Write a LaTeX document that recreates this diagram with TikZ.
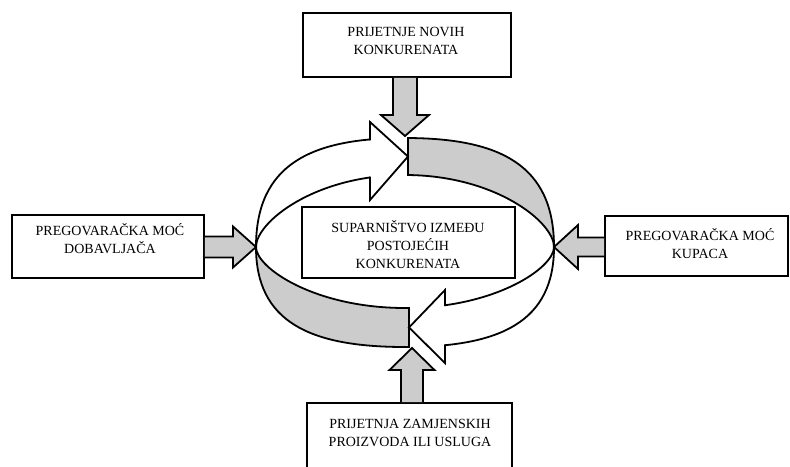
\documentclass[tikz,border=0pt]{standalone}
\usepackage{fontspec}
\setmainfont{Liberation Serif}
\usetikzlibrary{calc,intersections}
\begin{document}
\begin{tikzpicture}[x=1pt,y=-1pt,
  box/.style={draw=black,line width=1.8pt,fill=white,inner sep=0pt,outer sep=0.9pt},
  txt/.style={font=\fontsize{14}{18}\selectfont,align=center,inner sep=0pt},
  inarrow/.style={fill=gray!40,draw=black,line width=1.8pt,line join=miter},
  bandline/.style={draw=black,line width=1.8pt},
  endline/.style={draw=black,line width=1.8pt,line join=miter,line cap=rect},
  outerpath/.style={insert path={(L) .. controls (256,165) and (310,138) .. (405,138) .. controls (500,138) and (554,165) .. (R) .. controls (554,322) and (500,347) .. (405,347) .. controls (310,347) and (256,322) .. (L) -- cycle}},
  innerpath/.style={insert path={(L) .. controls (256,222) and (315,175) .. (405,175) .. controls (495,175) and (554,222) .. (R) .. controls (554,268) and (495,308) .. (405,308) .. controls (315,308) and (256,268) .. (L) -- cycle}},
]
\useasboundingbox (0,0) rectangle (790,466);
\clip (0,0) rectangle (790,466);

\coordinate (L) at (256,247);
\coordinate (R) at (554,247);

% grey parts of the cycle
\begin{scope}
  \clip (408,100) rectangle (600,247);
  \fill[gray!40,even odd rule,outerpath,innerpath];
\end{scope}
\begin{scope}
  \clip (250,247) rectangle (409,360);
  \fill[gray!40,even odd rule,outerpath,innerpath];
\end{scope}

% outlines of the cycle, cut where the arrow heads are
\begin{scope}
  \clip (0,0) rectangle (370,466);
  \draw[bandline,outerpath]; \draw[bandline,innerpath];
\end{scope}
\begin{scope}
  \clip (370,247) rectangle (409,466);
  \draw[bandline,outerpath]; \draw[bandline,innerpath];
\end{scope}
\begin{scope}
  \clip (408,0) rectangle (445,247);
  \draw[bandline,outerpath]; \draw[bandline,innerpath];
\end{scope}
\begin{scope}
  \clip (445,0) rectangle (790,466);
  \draw[bandline,outerpath]; \draw[bandline,innerpath];
\end{scope}

\path[name path=outer,outerpath];
\path[name path=inner,innerpath];
\path[name path=v1] (408,100) -- (408,246);
\path[name path=v2] (370,100) -- (370,246);
\path[name path=v3] (409,248) -- (409,400);
\path[name path=v4] (445,248) -- (445,400);
\path[name intersections={of=outer and v1,by={o1}}];
\path[name intersections={of=inner and v1,by={i1}}];
\path[name intersections={of=outer and v2,by={o2}}];
\path[name intersections={of=inner and v2,by={i2}}];
\path[name intersections={of=outer and v3,by={o3}}];
\path[name intersections={of=inner and v3,by={i3}}];
\path[name intersections={of=outer and v4,by={o4}}];
\path[name intersections={of=inner and v4,by={i4}}];

\coordinate (twtip) at ($(o1)!0.5!(i1)$);
\coordinate (bwtip) at ($(o3)!0.5!(i3)$);
\coordinate (th1) at (370,122);
\coordinate (th2) at (370,200);
\coordinate (bh1) at (445,290);
\coordinate (bh2) at (445,363);

\draw[endline] (o1) -- (i1);
\draw[endline] (o2) -- (th1) -- (twtip) -- (th2) -- (i2);
\draw[endline] (o3) -- (i3);
\draw[endline] (i4) -- (bh1) -- (bwtip) -- (bh2) -- (o4);

% boxes
\node[box,minimum width=208pt,minimum height=64pt] (tbox) at (407,45) {};
\node[box,minimum width=205pt,minimum height=70pt] (bbox) at (409.5,438) {};
\node[box,minimum width=192pt,minimum height=63pt] (lbox) at (108,246.5) {};
\node[box,minimum width=183pt,minimum height=60pt] (rbox) at (696.5,246) {};
\node[box,minimum width=213pt,minimum height=71pt] (cbox) at (408.5,242.5) {};

\node[txt] (ttxt) at (406,41) {PRIJETNJE NOVIH\\KONKURENATA};
\node[txt] (ltxt) at (110,239) {PREGOVARAČKA MOĆ\\DOBAVLJAČA};
\node[txt] (rtxt) at (700,244) {PREGOVARAČKA MOĆ\\KUPACA};
\node[txt] (ctxt) at (408,245) {SUPARNIŠTVO IZMEĐU\\POSTOJEĆIH\\KONKURENATA};
\node[txt] (btxt) at (410,432.5) {PRIJETNJA ZAMJENSKIH\\PROIZVODA ILI USLUGA};

% input arrows
\coordinate (ttip) at (405,136);
\coordinate (btip) at (412,348);
\draw[inarrow] ($(ttip|-tbox.south)+(-12,0)$) -- ($(ttip)+(-12,-21)$) -- ($(ttip)+(-24,-21)$) -- (ttip) -- ($(ttip)+(24,-21)$) -- ($(ttip)+(12,-21)$) -- ($(ttip|-tbox.south)+(12,0)$);
\draw[inarrow] ($(L-|lbox.east)+(0,-10.5)$) -- ($(L)+(-23,-10.5)$) -- ($(L)+(-23,-20.5)$) -- (L) -- ($(L)+(-23,20.5)$) -- ($(L)+(-23,10.5)$) -- ($(L-|lbox.east)+(0,10.5)$);
\draw[inarrow] ($(R-|rbox.west)+(0,-9.5)$) -- ($(R)+(24,-9.5)$) -- ($(R)+(24,-22)$) -- (R) -- ($(R)+(24,22)$) -- ($(R)+(24,9.5)$) -- ($(R-|rbox.west)+(0,9.5)$);
\draw[inarrow] ($(btip|-bbox.north)+(-11,0)$) -- ($(btip)+(-11,22)$) -- ($(btip)+(-22.5,22)$) -- (btip) -- ($(btip)+(22.5,22)$) -- ($(btip)+(11,22)$) -- ($(btip|-bbox.north)+(11,0)$);
\end{tikzpicture}
\end{document}
